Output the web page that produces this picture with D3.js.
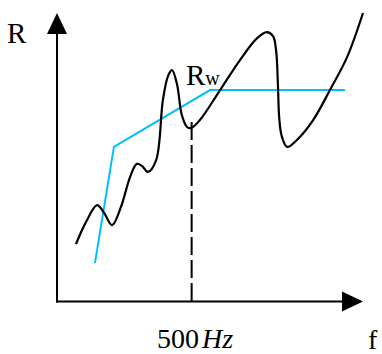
<!DOCTYPE html>
<html>
<head>
<meta charset="utf-8">
<script src="https://cdn.jsdelivr.net/npm/d3@7/dist/d3.min.js"></script>
<style>
  html, body { margin: 0; padding: 0; background: #fff; }
  svg { display: block; }
  text { font-family: "Liberation Serif", "Times New Roman", serif; fill: #000; }
</style>
</head>
<body>
<script>
// Sound reduction index R against frequency f (schematic, relative units 0–100)
const measuredF = [6.2, 9.5, 13.1, 15.4, 18.0, 20.9, 23.9, 26.1, 27.8, 29.7, 32.4, 34.6, 36.3, 37.6,
  39.2, 40.8, 42.5, 43.8, 46.7, 53.3, 59.8, 65.4, 68.6, 70.6, 71.6, 72.2, 72.6, 73.4, 75.2, 78.4,
  83.7, 89.2, 94.8, 100];
const measuredR = [19.9, 27.6, 33.4, 30.7, 26.5, 32.8, 43.2, 47.7, 47.0, 44.9, 49.0, 69.8, 78.2, 80.2,
  75.4, 64.6, 60.5, 60.1, 62.9, 73.3, 83.7, 91.3, 93.4, 92.0, 87.0, 75.0, 64.0, 57.5, 53.6, 56.0,
  62.9, 73.3, 84.7, 100];

// Shifted reference curve
const referenceF = [12.4, 18.6, 50.0, 94.1];
const referenceR = [13.3, 53.6, 73.3, 73.3];

// Single-number rating read at 500 Hz
const ratingF = 44.0;
const ratingR = 62.2;

const labels = { yAxis: "R", xAxis: "f", rating: "R", ratingSub: "w", freqValue: "500", freqUnit: "Hz" };

const W = 382, H = 354;
const svg = d3.select("body").append("svg").attr("width", W).attr("height", H);

const x = d3.scaleLinear().domain([0, 100]).range([57, 363]);
const y = d3.scaleLinear().domain([0, 100]).range([301.5, 13]);

const arrowLen = 21, arrowHalf = 10;

// Axes with arrowheads
svg.append("line")
  .attr("x1", x(0)).attr("y1", y(0) + 1)
  .attr("x2", x(0)).attr("y2", y(100) + arrowLen)
  .attr("stroke", "#000").attr("stroke-width", 2);
svg.append("path")
  .attr("d", `M${x(0)},${y(100)} L${x(0) - arrowHalf},${y(100) + arrowLen} L${x(0) + arrowHalf},${y(100) + arrowLen} Z`)
  .attr("fill", "#000");

svg.append("line")
  .attr("x1", x(0) - 1).attr("y1", y(0))
  .attr("x2", x(100) - arrowLen).attr("y2", y(0))
  .attr("stroke", "#000").attr("stroke-width", 2);
svg.append("path")
  .attr("d", `M${x(100)},${y(0)} L${x(100) - arrowLen},${y(0) - arrowHalf} L${x(100) - arrowLen},${y(0) + arrowHalf} Z`)
  .attr("fill", "#000");

// Dashed drop line at 500 Hz
svg.append("line")
  .attr("x1", x(ratingF)).attr("y1", y(ratingR))
  .attr("x2", x(ratingF)).attr("y2", y(0))
  .attr("stroke", "#000").attr("stroke-width", 2)
  .attr("stroke-dasharray", "18,5");

// Reference curve
const refLine = d3.line().x((d, i) => x(referenceF[i])).y((d, i) => y(referenceR[i]));
svg.append("path")
  .attr("d", refLine(referenceF))
  .attr("fill", "none").attr("stroke", "#00bfff").attr("stroke-width", 2);

// Measured curve
const measLine = d3.line()
  .x((d, i) => x(measuredF[i])).y((d, i) => y(measuredR[i]))
  .curve(d3.curveCatmullRom.alpha(0.5));
svg.append("path")
  .attr("d", measLine(measuredF))
  .attr("fill", "none").attr("stroke", "#000").attr("stroke-width", 2.2)
  .attr("stroke-linejoin", "round").attr("stroke-linecap", "butt");

// Labels
svg.append("text").attr("x", 7).attr("y", 43).attr("font-size", 29).text(labels.yAxis);
svg.append("text").attr("x", 368).attr("y", 349).attr("font-size", 28).text(labels.xAxis);

const rw = svg.append("text").attr("x", 186).attr("y", 85).attr("font-size", 29);
rw.append("tspan").text(labels.rating);
rw.append("tspan").attr("font-size", 20).text(labels.ratingSub);

const fl = svg.append("text").attr("x", 157).attr("y", 348).attr("font-size", 28);
fl.append("tspan").text(labels.freqValue);
fl.append("tspan").attr("dx", 3).attr("font-style", "italic").text(labels.freqUnit);
</script>
</body>
</html>
